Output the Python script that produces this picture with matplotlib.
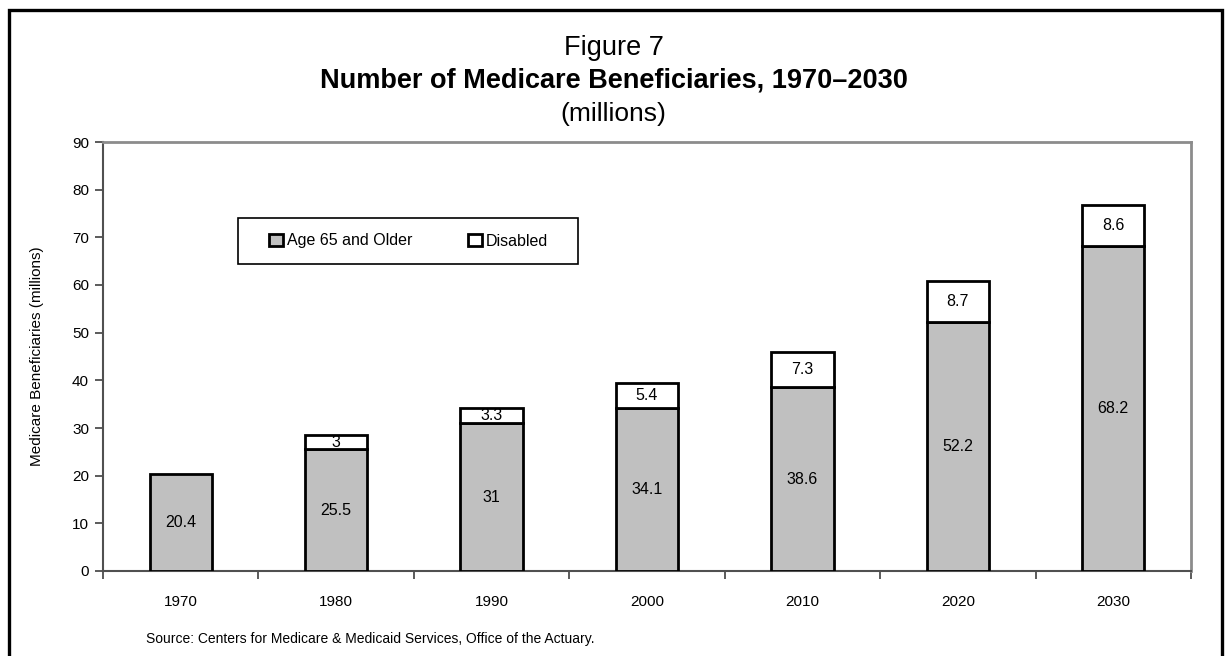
import numpy as np
import matplotlib.pyplot as plt
from matplotlib.patches import Rectangle, Patch

plt.rcParams['font.family'] = ['Liberation Sans', 'DejaVu Sans']

years = ['1970', '1980', '1990', '2000', '2010', '2020', '2030']
aged = [20.4, 25.5, 31, 34.1, 38.6, 52.2, 68.2]
disabled = [0, 3, 3.3, 5.4, 7.3, 8.7, 8.6]
aged_labels = ['20.4', '25.5', '31', '34.1', '38.6', '52.2', '68.2']
disabled_labels = ['', '3', '3.3', '5.4', '7.3', '8.7', '8.6']

W, H = 1227, 656
fig = plt.figure(figsize=(W / 100, H / 100), dpi=100)
ax = fig.add_axes([103/W, 1 - 571/H, 1088/W, 429/H])

x = np.arange(len(years))
w = 0.4
ax.bar(x, aged, w, color='#c0c0c0', edgecolor='black', linewidth=2, zorder=3)
# no disabled bar segment for 1970
has_dis = [d > 0 for d in disabled]
ax.bar(x[has_dis], np.array(disabled)[has_dis], w, bottom=np.array(aged)[has_dis],
       color='white', edgecolor='black', linewidth=2, zorder=3)

for i in range(len(years)):
    ax.text(x[i], aged[i] / 2, aged_labels[i], ha='center', va='center', fontsize=11.5, zorder=4)
    if disabled[i] > 0:
        ax.text(x[i], aged[i] + disabled[i] / 2, disabled_labels[i], ha='center', va='center',
                fontsize=11.5, zorder=4)

ax.set_xlim(-0.5, len(years) - 0.5)
ax.set_ylim(0, 90)
ax.set_yticks(range(0, 91, 10))
ax.set_xticks(x)
ax.set_xticklabels(years)
ax.set_xticks(np.arange(-0.5, len(years), 1), minor=True)
ax.tick_params(axis='x', which='major', length=0, pad=17, labelsize=11)
ax.tick_params(axis='x', which='minor', length=6, width=1.2, color='#404040', direction='out')
ax.tick_params(axis='y', length=6, width=1.2, color='#404040', direction='out', labelsize=11, pad=4)

for s in ['left', 'bottom']:
    ax.spines[s].set_color('#505050')
    ax.spines[s].set_linewidth(1.5)
for s in ['top', 'right']:
    ax.spines[s].set_color('#8c8c8c')
    ax.spines[s].set_linewidth(2)

ax.set_ylabel('Medicare Beneficiaries (millions)', fontsize=11, labelpad=20)

# legend box
lx0, lx1, ly0, ly1 = 238, 578, 218, 264
ax.add_patch(Rectangle(((lx0 - 103) / 1088, (571 - ly1) / 429), (lx1 - lx0) / 1088, (ly1 - ly0) / 429,
                       transform=ax.transAxes, facecolor='white', edgecolor='black', linewidth=1.2,
                       zorder=5))
handles = [Patch(facecolor='#c0c0c0', edgecolor='black', linewidth=2),
           Patch(facecolor='white', edgecolor='black', linewidth=2)]
leg = ax.legend(handles, ['Age 65 and Older', 'Disabled'], ncol=2, mode='expand',
                bbox_to_anchor=((269 - 103) / 1088, (571 - ly1) / 429, (548 - 269) / 1088, (ly1 - ly0) / 429),
                loc='center', fontsize=11.5, handlelength=0.85, handleheight=0.85, handletextpad=0.25,
                borderpad=0, borderaxespad=0, frameon=False)
leg.set_zorder(6)

fig.text(0.5, 1 - 48/H, 'Figure 7', ha='center', va='center', fontsize=19.5)
fig.text(0.5, 1 - 80/H, 'Number of Medicare Beneficiaries, 1970\u20132030', ha='center', va='center',
         fontsize=19.5, fontweight='bold')
fig.text(0.5, 1 - 114/H, '(millions)', ha='center', va='center', fontsize=19)
fig.text(146/W, 1 - 639/H, 'Source: Centers for Medicare & Medicaid Services, Office of the Actuary.',
         ha='left', va='center', fontsize=10)

# outer border around the whole figure
fig.patches.append(Rectangle((8.5/W, -0.2), 1213/W, 1.2 - 9.5/H, transform=fig.transFigure,
                             fill=False, edgecolor='black', linewidth=2.4))

fig.savefig('out.png', dpi=100)
